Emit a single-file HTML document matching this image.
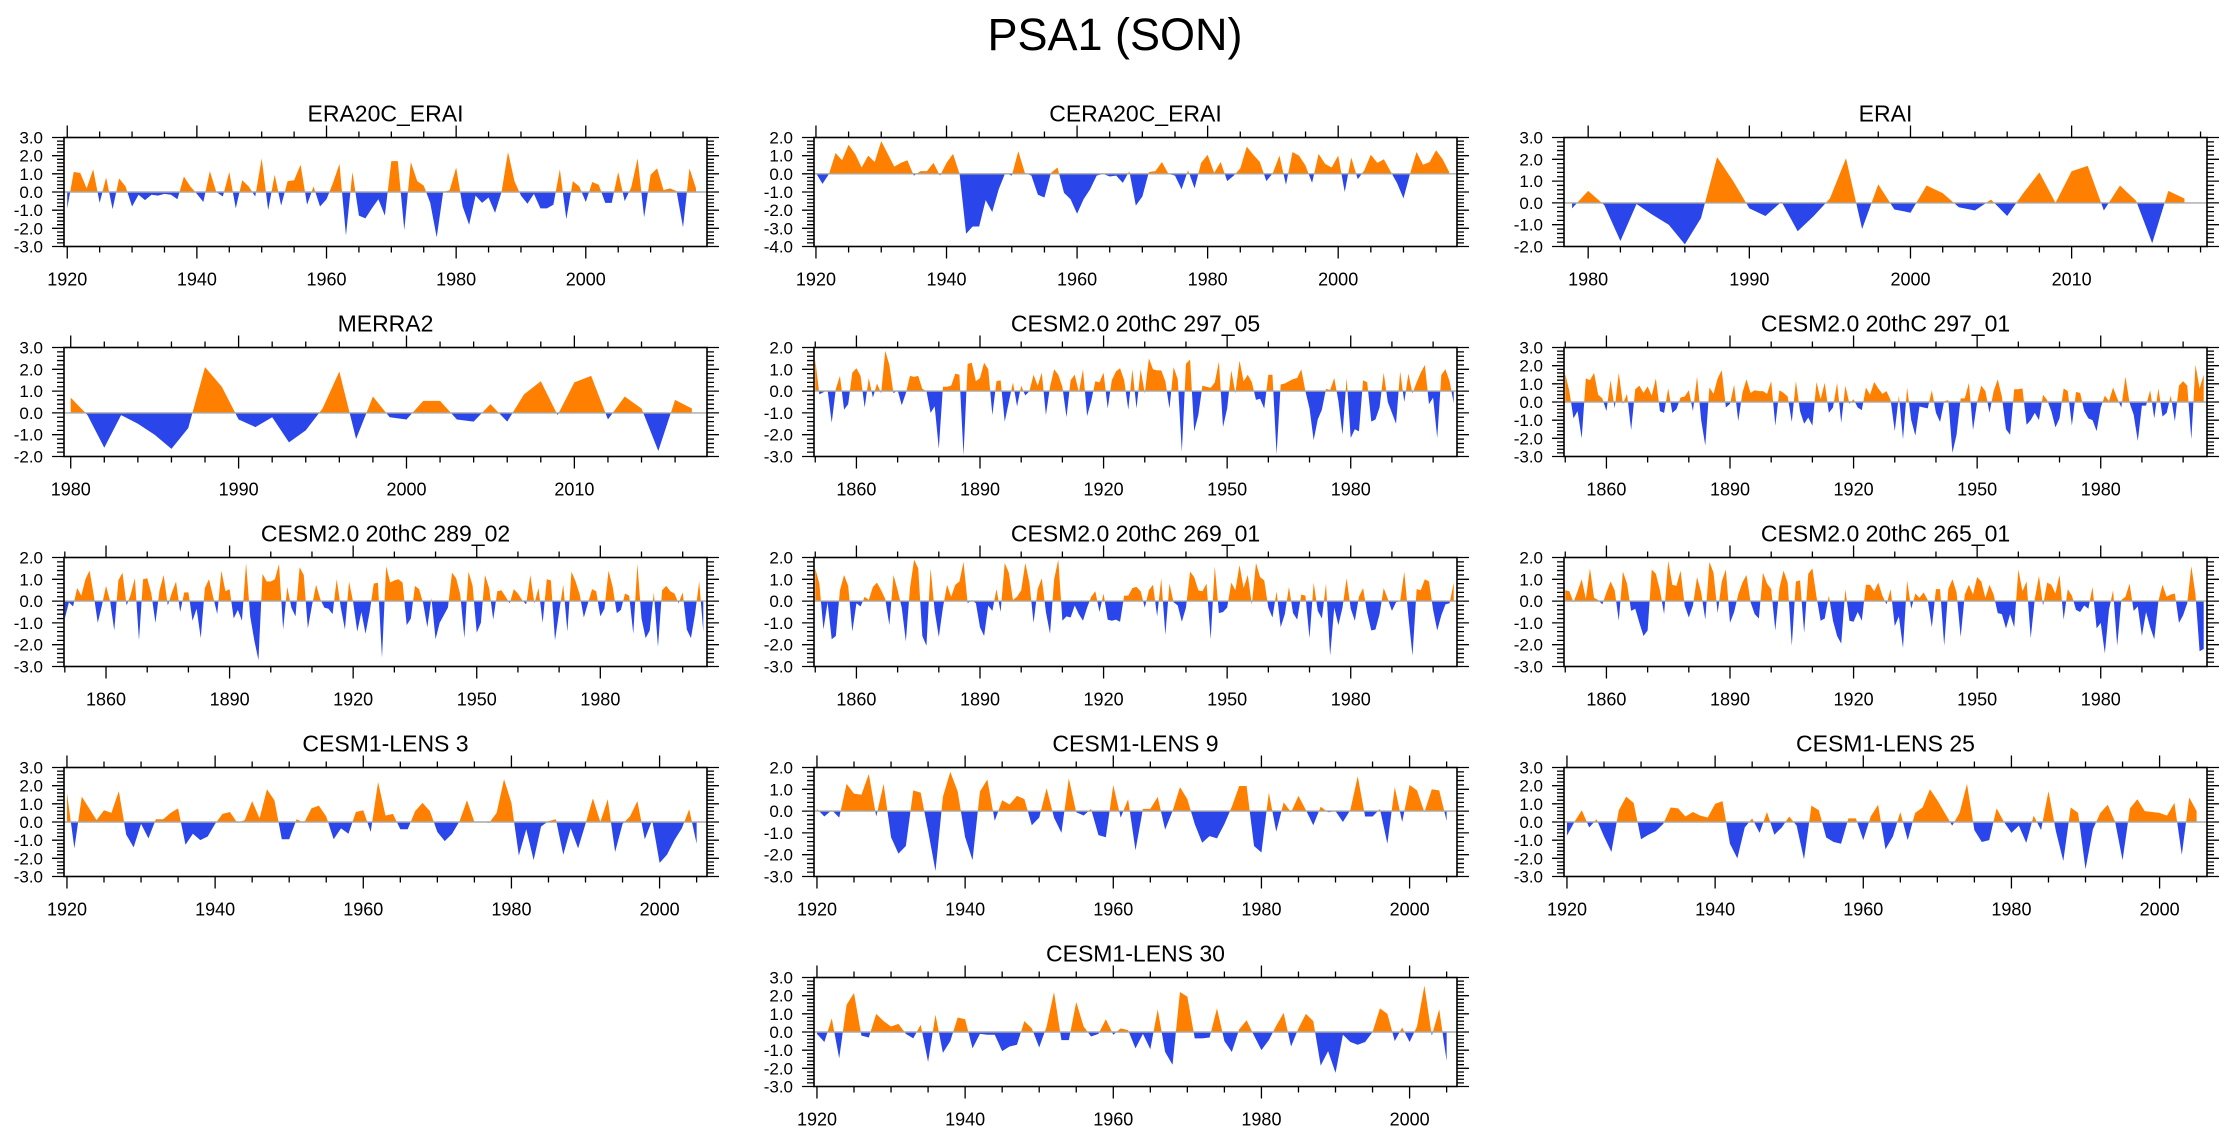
<!DOCTYPE html>
<html><head><meta charset="utf-8"><title>PSA1 (SON)</title>
<style>
html,body{margin:0;padding:0;background:#fff;}
svg{display:block;}
text{font-family:"Liberation Sans",Arial,sans-serif;fill:#000;}
</style></head>
<body>
<svg id="fig" width="2230" height="1133" viewBox="0 0 2230 1133" xmlns="http://www.w3.org/2000/svg">
<rect x="0" y="0" width="2230" height="1133" fill="#fff"/>
<text x="1115" y="50" font-size="45" text-anchor="middle">PSA1 (SON)</text>
</svg>
<script>
// ---------- data (values per year) ----------
const era20cStart = 1920;
const era20cVals = [-0.9,1.1,1.05,0.2,1.25,-0.6,0.8,-0.95,0.75,0.3,-0.8,-0.15,-0.45,-0.15,-0.2,-0.1,-0.15,-0.4,0.85,0.3,-0.1,-0.55,1.15,0.0,-0.25,1.1,-0.9,0.65,0.3,-0.25,1.85,-1.0,0.95,-0.75,0.6,0.65,1.5,-0.7,0.3,-0.8,-0.4,0.5,1.55,-2.4,1.1,-1.3,-1.45,-0.9,-0.4,-1.3,1.7,1.7,-2.1,1.65,0.6,0.35,-0.6,-2.5,0.0,0.1,1.35,-0.8,-1.8,-0.2,-0.6,-0.3,-1.15,0.0,2.2,0.6,-0.2,-0.65,-0.1,-0.9,-0.9,-0.7,1.25,-1.5,0.6,0.3,-0.55,0.55,0.4,-0.6,-0.6,1.1,-0.5,0.25,1.85,-1.4,0.95,1.3,0.1,0.2,0.05,-1.95,1.3,0.2];
const cera20cStart = 1920;
const cera20cVals = [0.05,-0.55,0.0,1.15,0.75,1.6,1.1,0.35,1.0,0.65,1.8,1.1,0.4,0.6,0.75,-0.1,0.15,0.15,0.6,-0.1,0.6,1.1,0.0,-3.3,-2.9,-2.9,-1.45,-2.1,-0.85,0.05,-0.1,1.25,0.05,-0.1,-1.15,-1.3,0.05,0.35,-1.05,-1.4,-2.2,-1.4,-0.85,-0.1,0.0,-0.15,-0.1,-0.5,0.15,-1.75,-1.25,0.1,0.15,0.65,0.0,-0.1,-0.85,0.2,-0.8,0.6,1.05,0.05,0.65,-0.4,-0.1,0.3,1.5,1.05,0.65,-0.4,0.05,1.0,-0.6,1.2,1.0,0.45,-0.5,1.1,0.55,0.35,1.0,-1.0,0.9,-0.3,0.2,1.05,0.6,0.8,0.15,-0.5,-1.35,0.0,1.2,0.5,0.65,1.3,0.8,0.1];
const eraiStart = 1979;
const eraiVals = [-0.25,0.55,-0.1,-1.75,-0.05,-0.55,-1.0,-1.9,-0.7,2.1,1.0,-0.25,-0.6,0.05,-1.3,-0.6,0.2,2.05,-1.2,0.85,-0.3,-0.45,0.8,0.45,-0.2,-0.35,0.15,-0.6,0.45,1.4,0.0,1.45,1.7,-0.35,0.8,0.1,-1.85,0.55,0.2];
const merra2Start = 1980;
const merra2Vals = [0.7,-0.1,-1.6,-0.1,-0.5,-1.0,-1.65,-0.7,2.1,1.2,-0.3,-0.65,-0.2,-1.35,-0.8,0.2,1.9,-1.2,0.75,-0.2,-0.3,0.55,0.55,-0.3,-0.4,0.4,-0.4,0.85,1.45,-0.1,1.4,1.7,-0.3,0.75,0.2,-1.75,0.6,0.2];
const c297_05Start = 1850;
const c297_05Vals = [1.45,-0.15,-0.05,0.05,-1.45,0.1,0.7,-0.85,-0.6,0.85,1.05,0.7,-0.75,0.6,-0.3,0.35,-0.1,1.85,1.2,-0.1,0.05,-0.65,-0.1,0.7,0.65,0.7,0.1,0.0,-1.0,-0.7,-2.65,0.2,0.2,0.25,0.8,0.75,-2.95,1.25,1.3,0.45,0.6,1.3,1.0,-1.1,0.45,0.5,-1.4,-0.5,0.4,-0.7,0.25,-0.2,0.0,0.75,0.25,0.85,-1.1,0.2,1.0,0.75,0.2,-1.2,0.5,0.75,-0.05,1.0,-1.15,-0.45,0.45,0.4,0.85,-0.8,0.5,0.9,1.05,0.5,-0.85,1.0,-0.8,1.0,-0.1,1.5,1.0,0.95,0.95,0.45,-0.8,1.1,0.55,-2.8,1.25,1.45,-1.85,-1.1,0.25,0.2,0.15,0.4,1.35,-1.65,-0.8,0.95,-0.1,1.4,0.45,0.75,0.4,-0.4,-0.35,-0.8,0.75,0.75,-2.9,0.3,0.35,0.45,0.55,0.6,1.0,0.0,-0.8,-2.25,-1.3,-0.85,0.1,0.05,0.6,-0.45,-2.0,0.6,-2.15,-1.75,-1.85,0.5,0.4,-1.4,-1.3,-0.75,0.85,-0.5,-1.0,-1.5,0.9,-0.5,0.8,-0.1,0.4,0.85,1.2,-0.6,-0.3,-2.15,0.75,1.0,0.45,-0.55];
const c297_01Start = 1850;
const c297_01Vals = [1.55,0.6,-0.9,-0.5,-2.0,1.3,1.2,1.6,0.4,0.2,-0.5,1.2,-0.35,1.6,-0.1,0.45,-1.55,0.7,0.9,0.5,0.85,0.35,1.3,-0.5,-0.6,0.75,-0.6,-0.4,0.25,0.3,0.65,-0.5,1.4,-1.0,-2.4,0.8,0.45,1.3,1.75,-0.3,-0.1,0.95,-1.05,0.5,1.25,0.5,0.65,0.6,0.6,0.45,1.15,-1.3,0.65,0.5,0.3,-1.1,1.15,-0.5,-1.2,-0.85,-1.3,1.1,0.15,1.05,-0.6,-0.3,1.05,-1.15,0.9,-0.1,0.15,-0.3,-0.45,0.8,0.4,1.1,0.75,0.45,0.6,0.1,-1.6,0.35,-2.05,0.8,-1.0,-1.85,-0.25,-0.3,-0.35,0.65,-0.6,-1.1,0.05,0.1,-2.8,-1.8,0.2,0.2,1.05,-1.55,0.0,0.9,0.6,-0.6,0.6,1.25,0.3,-1.5,-1.8,0.7,0.7,0.75,-1.25,-1.0,-0.6,-1.0,0.4,0.1,-0.5,-1.4,-0.9,0.75,0.6,-1.3,0.55,0.5,-0.5,-0.9,-1.0,-1.6,-0.3,0.35,0.05,0.8,0.2,-0.3,1.4,-0.05,-0.7,-2.15,-0.2,-0.2,0.65,-0.9,0.75,-0.8,-0.6,0.35,-1.05,0.9,1.15,0.9,-2.05,2.05,0.75,1.5];
const c289_02Start = 1850;
const c289_02Vals = [-0.8,-0.05,-0.25,0.6,0.25,1.0,1.4,0.3,-1.0,-0.2,0.7,0.0,-1.35,0.95,1.3,-0.2,0.3,1.05,-1.8,1.0,1.05,0.35,-1.0,0.5,1.2,-0.2,0.4,0.9,-0.5,0.4,0.4,-0.9,-0.35,-1.7,0.6,1.0,0.2,-0.6,1.4,0.45,0.55,-0.8,-0.4,-0.9,1.75,-0.7,-1.8,-2.7,1.25,0.9,0.9,1.0,1.7,-1.3,0.65,-0.3,-0.7,1.55,1.2,-1.25,-0.2,0.75,0.1,-0.3,-0.35,-0.6,1.0,-0.3,-1.3,0.9,-0.05,-1.4,-0.5,-1.5,-0.5,0.8,0.85,-2.6,1.6,0.85,0.95,1.0,0.85,-1.1,-0.8,0.7,0.55,-0.1,-1.2,0.15,-1.75,-1.0,-0.65,-0.3,1.3,1.05,0.3,-1.7,1.35,0.7,-1.45,-1.0,1.2,0.6,-0.85,0.45,0.5,0.2,-0.1,0.55,0.35,0.05,-0.15,1.2,-0.1,0.6,-1.0,1.0,0.95,-1.8,-0.5,0.75,-1.4,1.35,0.9,0.3,-0.75,-0.1,0.55,0.45,-0.7,-0.35,1.4,0.65,-0.55,-0.4,0.35,0.25,-1.5,1.7,-0.8,-1.7,-1.35,0.4,-2.1,0.5,0.7,0.45,0.35,-0.1,0.4,-1.3,-1.7,-0.6,0.9,-1.4];
const c269_01Start = 1850;
const c269_01Vals = [1.5,0.8,-1.3,-0.05,-1.75,-1.6,0.5,1.2,0.7,-1.4,-0.1,-0.25,0.2,0.05,0.65,0.85,0.5,0.1,-1.1,1.2,0.5,-0.3,-1.85,0.6,1.9,1.5,-1.6,-2.05,1.5,-0.45,-1.65,-0.3,0.75,0.2,0.75,0.9,1.8,-0.1,0.05,-0.1,-1.2,-1.6,-0.2,-0.45,0.55,-0.5,1.75,1.3,0.05,0.2,0.5,1.75,0.85,-1.0,0.55,1.05,-0.5,-1.5,1.0,1.9,-0.9,-0.7,-0.75,-0.2,-0.6,-0.9,-0.3,0.2,0.45,-0.5,0.35,-0.85,-0.9,-0.85,-0.95,0.25,0.25,0.6,0.65,0.45,-0.3,0.5,0.75,-0.7,1.05,-1.55,0.8,-0.05,-0.2,-0.95,-0.3,1.35,1.1,0.5,0.45,0.8,-1.75,1.6,-0.55,-0.5,-0.3,0.85,0.5,1.65,0.6,1.2,-0.15,1.75,1.1,0.95,-0.3,-0.75,0.45,-1.2,-0.6,0.65,-0.55,-0.85,0.3,0.25,-1.7,0.85,-0.45,-0.8,0.8,-2.5,-0.3,-1.1,-0.3,1.05,-0.35,-0.9,0.2,0.6,-0.55,-1.35,-1.3,-0.6,0.6,0.1,-0.45,-0.05,0.0,1.35,-0.7,-2.5,0.55,0.5,1.0,0.9,-0.4,-1.35,-0.65,-0.15,-0.1,0.85];
const c265_01Start = 1850;
const c265_01Vals = [0.5,0.45,-0.05,0.45,1.0,0.1,1.5,0.15,0.05,-0.15,0.4,0.9,0.5,-0.9,1.35,0.8,-0.45,-0.35,-1.0,-1.6,-1.35,1.45,1.25,0.5,-0.6,1.85,0.75,0.7,1.4,-0.2,-0.75,-0.2,1.1,0.4,-0.85,1.8,1.3,-0.55,0.9,1.45,-1.0,-0.5,0.3,0.85,1.2,-0.05,-0.6,-0.8,1.3,0.8,0.55,-1.35,0.6,1.4,0.85,-2.05,0.9,0.95,-1.45,1.25,1.5,0.2,-0.9,-0.8,0.25,-0.9,-1.6,-1.95,0.55,-0.9,-0.95,-0.5,-0.9,0.75,0.75,0.45,0.85,0.25,-0.15,0.55,-1.15,-0.7,-2.15,0.95,-0.35,0.35,0.15,0.4,0.05,-1.2,0.55,0.55,-2.05,0.55,1.0,0.4,-1.65,0.3,0.75,0.3,1.1,0.9,0.15,0.75,0.3,-0.55,-0.6,-1.25,-0.6,-1.2,1.45,0.45,0.9,-1.7,0.1,1.15,-0.2,0.85,0.75,0.35,1.2,-0.85,0.55,0.25,-0.4,-0.5,-0.2,-0.35,0.65,-1.25,-1.0,-2.4,-0.4,0.5,-2.05,0.05,0.2,0.8,-0.45,-0.25,-1.6,-0.5,-1.2,-1.75,0.0,0.75,0.2,0.3,0.35,-1.0,-0.65,-0.1,1.6,0.3,-2.3,-2.2];
const lens3Start = 1920;
const lens3Vals = [1.6,-1.45,1.4,0.75,0.1,0.65,0.5,1.7,-0.7,-1.4,-0.1,-0.9,0.15,0.15,0.5,0.75,-1.25,-0.65,-1.0,-0.8,-0.1,0.45,0.55,-0.05,0.1,1.15,0.2,1.8,1.2,-0.95,-0.95,0.15,-0.05,0.75,0.9,0.3,-0.95,-0.35,-0.65,0.55,0.65,-0.55,2.2,0.35,0.45,-0.4,-0.4,0.6,1.05,0.6,-0.55,-1.05,-0.65,0.05,1.2,0.0,0.0,-0.05,0.5,2.35,1.05,-1.85,-0.4,-2.1,-0.25,0.05,0.15,-1.8,-0.35,-1.45,-0.1,1.3,0.0,1.25,-1.65,-0.1,0.3,1.15,-0.95,0.1,-2.25,-1.8,-1.0,-0.35,0.7,-1.2];
const lens9Start = 1920;
const lens9Vals = [0.1,-0.25,0.05,-0.3,1.25,0.8,0.75,1.7,-0.25,1.25,-1.2,-1.95,-1.6,0.95,0.85,-0.9,-2.75,0.65,1.8,0.9,-1.2,-2.25,0.9,1.45,-0.45,0.5,0.3,0.7,0.55,-0.65,-0.3,1.05,-0.3,-1.0,1.5,-0.05,-0.2,0.1,-1.1,-1.2,1.2,-0.3,0.55,-1.8,0.1,0.1,0.65,-0.85,0.0,1.1,0.55,-0.6,-1.45,-1.15,-1.25,-0.6,0.2,1.15,1.15,-1.6,-1.9,0.85,-0.95,0.4,-0.05,0.7,0.05,-0.65,0.2,-0.05,0.0,-0.5,0.05,1.6,-0.25,-0.25,0.1,-1.5,1.1,-0.5,1.2,0.95,-0.05,1.0,0.95,-0.45];
const lens25Start = 1920;
const lens25Vals = [-0.75,0.0,0.65,-0.3,0.15,-0.8,-1.65,0.65,1.4,1.05,-0.95,-0.7,-0.5,-0.1,0.8,0.75,0.3,0.55,0.35,0.25,1.0,1.15,-1.2,-2.0,-0.3,0.2,-0.6,0.55,-0.7,-0.3,0.3,-0.2,-2.05,0.9,0.65,-0.85,-1.1,-1.2,0.2,0.2,-1.0,0.3,0.95,-1.5,-0.8,0.55,-1.0,0.5,0.8,1.8,1.2,0.5,-0.2,0.5,2.1,-0.45,-1.1,-1.0,0.75,0.0,-0.6,-0.2,-1.15,0.35,-0.45,1.7,-0.5,-2.15,0.8,0.5,-2.6,-0.4,0.5,0.95,0.0,-2.1,0.75,1.25,0.6,0.55,0.5,0.35,1.05,-1.8,1.35,0.6];
const lens30Start = 1920;
const lens30Vals = [-0.1,-0.55,0.75,-1.45,1.5,2.15,-0.2,-0.3,1.0,0.6,0.3,0.45,-0.1,-0.35,0.4,-1.65,0.95,-1.15,-0.5,0.8,0.7,-0.9,-0.1,-0.15,-0.15,-1.05,-0.8,-0.7,0.6,0.2,-0.85,0.3,2.2,-0.45,-0.45,1.65,0.3,-0.25,-0.1,0.7,-0.15,0.2,0.1,-0.9,-0.1,-0.95,1.25,-1.1,-1.8,2.2,1.95,-0.35,-0.35,-0.3,1.3,-0.5,-1.1,0.15,0.65,-0.2,-1.0,-0.45,0.35,1.05,-0.8,0.2,1.0,0.6,-1.85,-1.05,-2.25,-0.15,-0.55,-0.7,-0.55,0.0,1.3,1.0,-0.5,0.25,-0.55,0.3,2.55,-0.2,1.25,-1.6];

const panelTitles = ["ERA20C_ERAI","CERA20C_ERAI","ERAI","MERRA2","CESM2.0 20thC 297_05","CESM2.0 20thC 297_01","CESM2.0 20thC 289_02","CESM2.0 20thC 269_01","CESM2.0 20thC 265_01","CESM1-LENS 3","CESM1-LENS 9","CESM1-LENS 25","CESM1-LENS 30"];

// ---------- layout ----------
const rowTops = [137.5, 347.5, 557.5, 767.5, 977.5];
const colLefts = [64, 814, 1564];
const plotW = 643, plotH = 109;
const ORANGE = "#ff8000", BLUE = "#2a46ea";
const NS = "http://www.w3.org/2000/svg";
const svg = document.getElementById("fig");

function mk(tag, attrs, parent) {
  const e = document.createElementNS(NS, tag);
  for (const k in attrs) e.setAttribute(k, attrs[k]);
  parent.appendChild(e);
  return e;
}
function slug(s){ return s.toLowerCase().replace(/[^a-z0-9]+/g,'-').replace(/^-|-$/g,''); }

const panels = [
  {t:0, r:0, c:0, vals:era20cVals, start:era20cStart, xr:[1919.5,2018.7], yr:[-3,3], lab:20, minor:5},
  {t:1, r:0, c:1, vals:cera20cVals, start:cera20cStart, xr:[1919.7,2018.2], yr:[-4,2], lab:20, minor:5},
  {t:2, r:0, c:2, vals:eraiVals, start:eraiStart, xr:[1978.5,2018.4], yr:[-2,3], lab:10, minor:2},
  {t:3, r:1, c:0, vals:merra2Vals, start:merra2Start, xr:[1979.6,2017.9], yr:[-2,3], lab:10, minor:2},
  {t:4, r:1, c:1, vals:c297_05Vals, start:c297_05Start, xr:[1849.7,2005.8], yr:[-3,2], lab:30, minor:10},
  {t:5, r:1, c:2, vals:c297_01Vals, start:c297_01Start, xr:[1849.7,2005.8], yr:[-3,3], lab:30, minor:10},
  {t:6, r:2, c:0, vals:c289_02Vals, start:c289_02Start, xr:[1849.8,2005.9], yr:[-3,2], lab:30, minor:10},
  {t:7, r:2, c:1, vals:c269_01Vals, start:c269_01Start, xr:[1849.7,2005.8], yr:[-3,2], lab:30, minor:10},
  {t:8, r:2, c:2, vals:c265_01Vals, start:c265_01Start, xr:[1849.7,2005.8], yr:[-3,2], lab:30, minor:10},
  {t:9, r:3, c:0, vals:lens3Vals, start:lens3Start, xr:[1919.6,2006.4], yr:[-3,3], lab:20, minor:5},
  {t:10, r:3, c:1, vals:lens9Vals, start:lens9Start, xr:[1919.6,2006.4], yr:[-3,2], lab:20, minor:5},
  {t:11, r:3, c:2, vals:lens25Vals, start:lens25Start, xr:[1919.6,2006.4], yr:[-3,3], lab:20, minor:5},
  {t:12, r:4, c:1, vals:lens30Vals, start:lens30Start, xr:[1919.6,2006.4], yr:[-3,3], lab:20, minor:5}
];

panels.forEach(p => {
  const title = panelTitles[p.t];
  const L = colLefts[p.c], T = rowTops[p.r];
  const xs = v => L + (v - p.xr[0]) / (p.xr[1] - p.xr[0]) * plotW;
  const ys = v => T + (p.yr[1] - v) / (p.yr[1] - p.yr[0]) * plotH;
  const g = mk("g", {}, svg);
  
  

  const tt = mk("text", {x: L + plotW/2, y: T - 16, "font-size": 23, "text-anchor": "middle"}, g);
  tt.textContent = title;
  
  

  const pts = [];
  for (let i = 0; i < p.vals.length; i++) {
    const yr = p.start + i, v = p.vals[i];
    if (i > 0) {
      const v0 = p.vals[i-1];
      if ((v0 > 0 && v < 0) || (v0 < 0 && v > 0)) {
        const f = v0 / (v0 - v);
        pts.push([yr - 1 + f, 0]);
      }
    }
    pts.push([yr, v]);
  }
  const x0 = xs(pts[0][0]), xn = xs(pts[pts.length-1][0]), y0 = ys(0);
  let dPos = "M" + x0.toFixed(2) + "," + y0.toFixed(2);
  let dNeg = dPos;
  pts.forEach(q => {
    dPos += "L" + xs(q[0]).toFixed(2) + "," + ys(Math.max(q[1],0)).toFixed(2);
    dNeg += "L" + xs(q[0]).toFixed(2) + "," + ys(Math.min(q[1],0)).toFixed(2);
  });
  dPos += "L" + xn.toFixed(2) + "," + y0.toFixed(2) + "Z";
  dNeg += "L" + xn.toFixed(2) + "," + y0.toFixed(2) + "Z";
  const pos = mk("path", {d: dPos, fill: ORANGE, stroke: "none"}, g);
  
  
  const neg = mk("path", {d: dNeg, fill: BLUE, stroke: "none"}, g);
  
  

  const zl = mk("line", {x1: L, x2: L + plotW, y1: y0, y2: y0, stroke: "#a8a8a8", "stroke-width": 1.4}, g);
  
  

  const bx = mk("rect", {x: L, y: T, width: plotW, height: plotH, fill: "none", stroke: "#000", "stroke-width": 1.6}, g);
  
  

  let tickPath = "";
  for (let k = Math.round(p.yr[0]*5); k <= Math.round(p.yr[1]*5); k++) {
    const v = k / 5, y = ys(v);
    const major = (k % 5 === 0);
    const len = major ? 12 : 7;
    tickPath += "M" + L + "," + y.toFixed(2) + "h" + (-len);
    tickPath += "M" + (L + plotW) + "," + y.toFixed(2) + "h" + len;
    if (major) {
      const lb = mk("text", {x: L - 21, y: y + 6, "font-size": 17, "text-anchor": "end"}, g);
      lb.textContent = v.toFixed(1);
      
      
    }
  }
  const firstMinor = Math.ceil(p.xr[0] / p.minor) * p.minor;
  for (let yv = firstMinor; yv <= p.xr[1]; yv += p.minor) {
    const x = xs(yv);
    const isLab = (p.lab === 30) ? ((yv - 1860) % 30 === 0) : (yv % p.lab === 0);
    const len = isLab ? 12 : 6;
    tickPath += "M" + x.toFixed(2) + "," + (T + plotH) + "v" + len;
    tickPath += "M" + x.toFixed(2) + "," + T + "v" + (-len);
    if (isLab) {
      const lb = mk("text", {x: x, y: T + plotH + 39, "font-size": 18, "text-anchor": "middle"}, g);
      lb.textContent = String(yv);
      
      
    }
  }
  const tp = mk("path", {d: tickPath, stroke: "#000", "stroke-width": 1.3, fill: "none"}, g);
  
  
});
</script>
</body></html>
